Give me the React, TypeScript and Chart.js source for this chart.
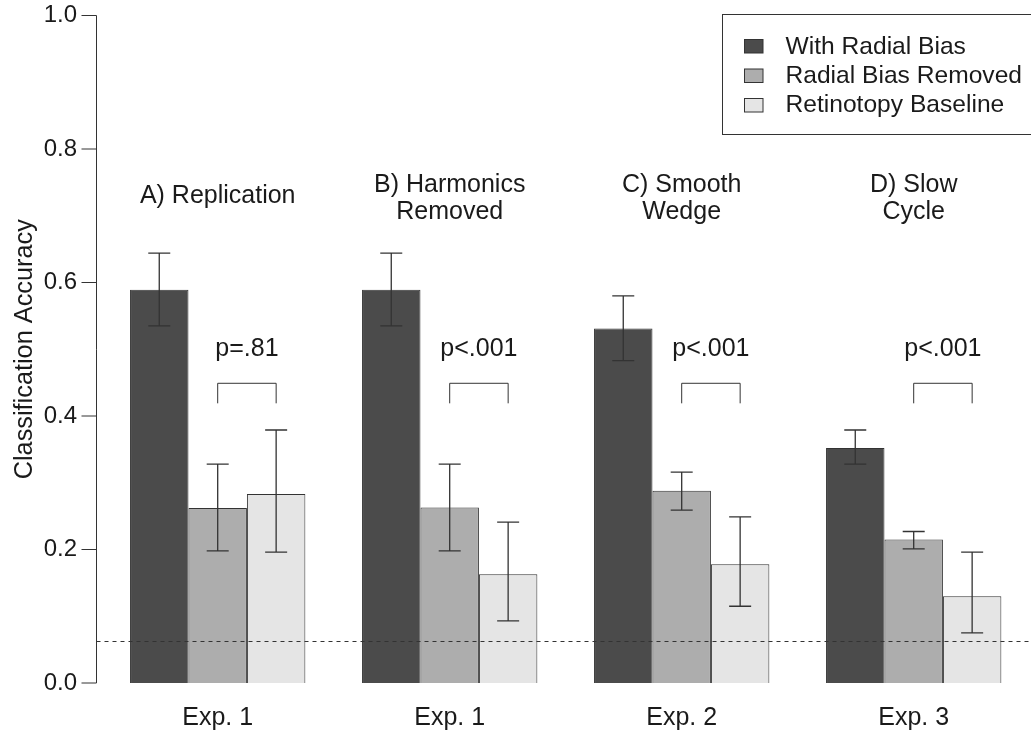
import React, { useEffect, useRef } from "react";
import { Chart, registerables } from "chart.js";

Chart.register(...registerables);

const categories = ["Exp. 1", "Exp. 1", "Exp. 2", "Exp. 3"];
const groupTitles = [["A) Replication"], ["B) Harmonics", "Removed"], ["C) Smooth", "Wedge"], ["D) Slow", "Cycle"]];
const seriesNames = ["With Radial Bias", "Radial Bias Removed", "Retinotopy Baseline"];
const withRadialBias = [0.589, 0.589, 0.531, 0.352];
const withRadialBiasLow = [0.535, 0.535, 0.483, 0.328];
const withRadialBiasHigh = [0.644, 0.644, 0.58, 0.379];
const biasRemoved = [0.262, 0.263, 0.288, 0.215];
const biasRemovedLow = [0.198, 0.198, 0.259, 0.201];
const biasRemovedHigh = [0.328, 0.328, 0.316, 0.227];
const baseline = [0.283, 0.163, 0.178, 0.13];
const baselineLow = [0.196, 0.093, 0.115, 0.075];
const baselineHigh = [0.379, 0.241, 0.249, 0.196];
const pLabels = ["p=.81", "p<.001", "p<.001", "p<.001"];
const chanceLevel = 0.0625;
const yTicks = [0, 0.2, 0.4, 0.6, 0.8, 1.0];

const FONT = "'Liberation Sans', Arial, sans-serif";
const TEXT = "#1a1a1a";
const LINE = "#333333";
const colors = ["#4b4b4b", "#adadad", "#e5e5e5"];

const lows = [withRadialBiasLow, biasRemovedLow, baselineLow];
const highs = [withRadialBiasHigh, biasRemovedHigh, baselineHigh];

const decorPlugin = {
  id: "decor",
  afterDatasetsDraw(chart: any) {
    const ctx = chart.ctx;
    const y = chart.scales.y;
    const axisX = 96.5;
    ctx.save();
    // error bars
    ctx.strokeStyle = LINE;
    ctx.lineWidth = 1.3;
    for (let d = 0; d < 3; d++) {
      const meta = chart.getDatasetMeta(d);
      meta.data.forEach((bar: any, i: number) => {
        const yl = y.getPixelForValue(lows[d][i]);
        const yh = y.getPixelForValue(highs[d][i]);
        ctx.beginPath();
        ctx.moveTo(bar.x, yl);
        ctx.lineTo(bar.x, yh);
        ctx.moveTo(bar.x - 11, yl);
        ctx.lineTo(bar.x + 11, yl);
        ctx.moveTo(bar.x - 11, yh);
        ctx.lineTo(bar.x + 11, yh);
        ctx.stroke();
      });
    }
    // chance line
    ctx.lineWidth = 1;
    ctx.setLineDash([4, 4]);
    const cy = Math.round(y.getPixelForValue(chanceLevel)) + 0.5;
    ctx.beginPath();
    ctx.moveTo(axisX, cy);
    ctx.lineTo(chart.width, cy);
    ctx.stroke();
    ctx.setLineDash([]);
    // y axis line and ticks
    const y0 = y.getPixelForValue(0);
    const y1 = y.getPixelForValue(1);
    ctx.beginPath();
    ctx.moveTo(axisX, y0);
    ctx.lineTo(axisX, y1);
    yTicks.forEach((t) => {
      const ty = y.getPixelForValue(t);
      ctx.moveTo(axisX, ty);
      ctx.lineTo(axisX - 15, ty);
    });
    ctx.stroke();
    // brackets, p labels, group titles
    const m1 = chart.getDatasetMeta(1);
    const m2 = chart.getDatasetMeta(2);
    ctx.fillStyle = TEXT;
    ctx.textAlign = "center";
    ctx.textBaseline = "alphabetic";
    ctx.font = `25px ${FONT}`;
    const bTop = y.getPixelForValue(0.449);
    const bBot = y.getPixelForValue(0.419);
    const pY = y.getPixelForValue(0.4906);
    for (let i = 0; i < categories.length; i++) {
      const xa = m1.data[i].x;
      const xb = m2.data[i].x;
      ctx.beginPath();
      ctx.moveTo(xa, bBot);
      ctx.lineTo(xa, bTop);
      ctx.lineTo(xb, bTop);
      ctx.lineTo(xb, bBot);
      ctx.stroke();
      ctx.fillText(pLabels[i], (xa + xb) / 2, pY);
      const cx = m1.data[i].x;
      const lines = groupTitles[i];
      if (lines.length === 1) {
        ctx.fillText(lines[0], cx, y.getPixelForValue(0.7187));
      } else {
        ctx.fillText(lines[0], cx, y.getPixelForValue(0.7361));
        ctx.fillText(lines[1], cx, y.getPixelForValue(0.6947));
      }
    }
    // legend
    ctx.lineWidth = 1;
    ctx.strokeStyle = LINE;
    ctx.strokeRect(722.5, 14.5, 320, 120);
    ctx.font = `24.6px ${FONT}`;
    ctx.textAlign = "left";
    const sqY = [46, 75.5, 105];
    const txY = [54.3, 83.3, 112.3];
    for (let d = 0; d < 3; d++) {
      ctx.fillStyle = colors[d];
      ctx.fillRect(744.5, sqY[d] - 6.5, 18.5, 13.5);
      ctx.strokeRect(744.5, sqY[d] - 6.5, 18.5, 13.5);
      ctx.fillStyle = TEXT;
      ctx.fillText(seriesNames[d], 785.5, txY[d]);
    }
    ctx.restore();
  },
};

export default function App() {
  const ref = useRef<HTMLCanvasElement | null>(null);
  useEffect(() => {
    if (!ref.current) return;
    Chart.defaults.font.family = FONT;
    const chart = new Chart(ref.current, {
      type: "bar",
      data: {
        labels: categories,
        datasets: [
          { label: seriesNames[0], data: withRadialBias, backgroundColor: colors[0] },
          { label: seriesNames[1], data: biasRemoved, backgroundColor: colors[1] },
          { label: seriesNames[2], data: baseline, backgroundColor: colors[2] },
        ].map((d) => ({
          ...d,
          borderColor: LINE,
          borderWidth: 1,
          categoryPercentage: 0.7557,
          barPercentage: 1.0,
        })),
      },
      options: {
        responsive: false,
        animation: false,
        devicePixelRatio: 1,
        layout: { padding: { top: 15.5, right: 1.3, left: 0, bottom: 0 } },
        plugins: { legend: { display: false }, tooltip: { enabled: false } },
        scales: {
          x: {
            grid: { display: false, drawTicks: false },
            border: { display: false },
            ticks: { color: TEXT, font: { size: 25 }, padding: 20, maxRotation: 0, autoSkip: false },
            afterFit: (s: any) => {
              s.height = 51;
              s.paddingLeft = 0;
              s.paddingRight = 0;
            },
          },
          y: {
            min: 0,
            max: 1,
            grid: { display: false, drawTicks: false },
            border: { display: false },
            ticks: {
              stepSize: 0.2,
              color: TEXT,
              font: { size: 24 },
              padding: 24.7,
              callback: (v: any) => Number(v).toFixed(1),
            },
            title: {
              display: true,
              text: "Classification Accuracy",
              color: TEXT,
              font: { size: 25.3 },
              padding: { top: 9.5, bottom: 0 },
            },
            afterFit: (s: any) => {
              s.width = 101.7;
              s.paddingTop = 0;
              s.paddingBottom = 0;
            },
          },
        },
      },
      plugins: [decorPlugin],
    });
    return () => chart.destroy();
  }, []);
  return (
    <div style={{ position: "fixed", left: 0, top: 0, width: 1031, height: 734, background: "#fff" }}>
      <canvas ref={ref} width={1031} height={734} style={{ width: 1031, height: 734 }} />
    </div>
  );
}
